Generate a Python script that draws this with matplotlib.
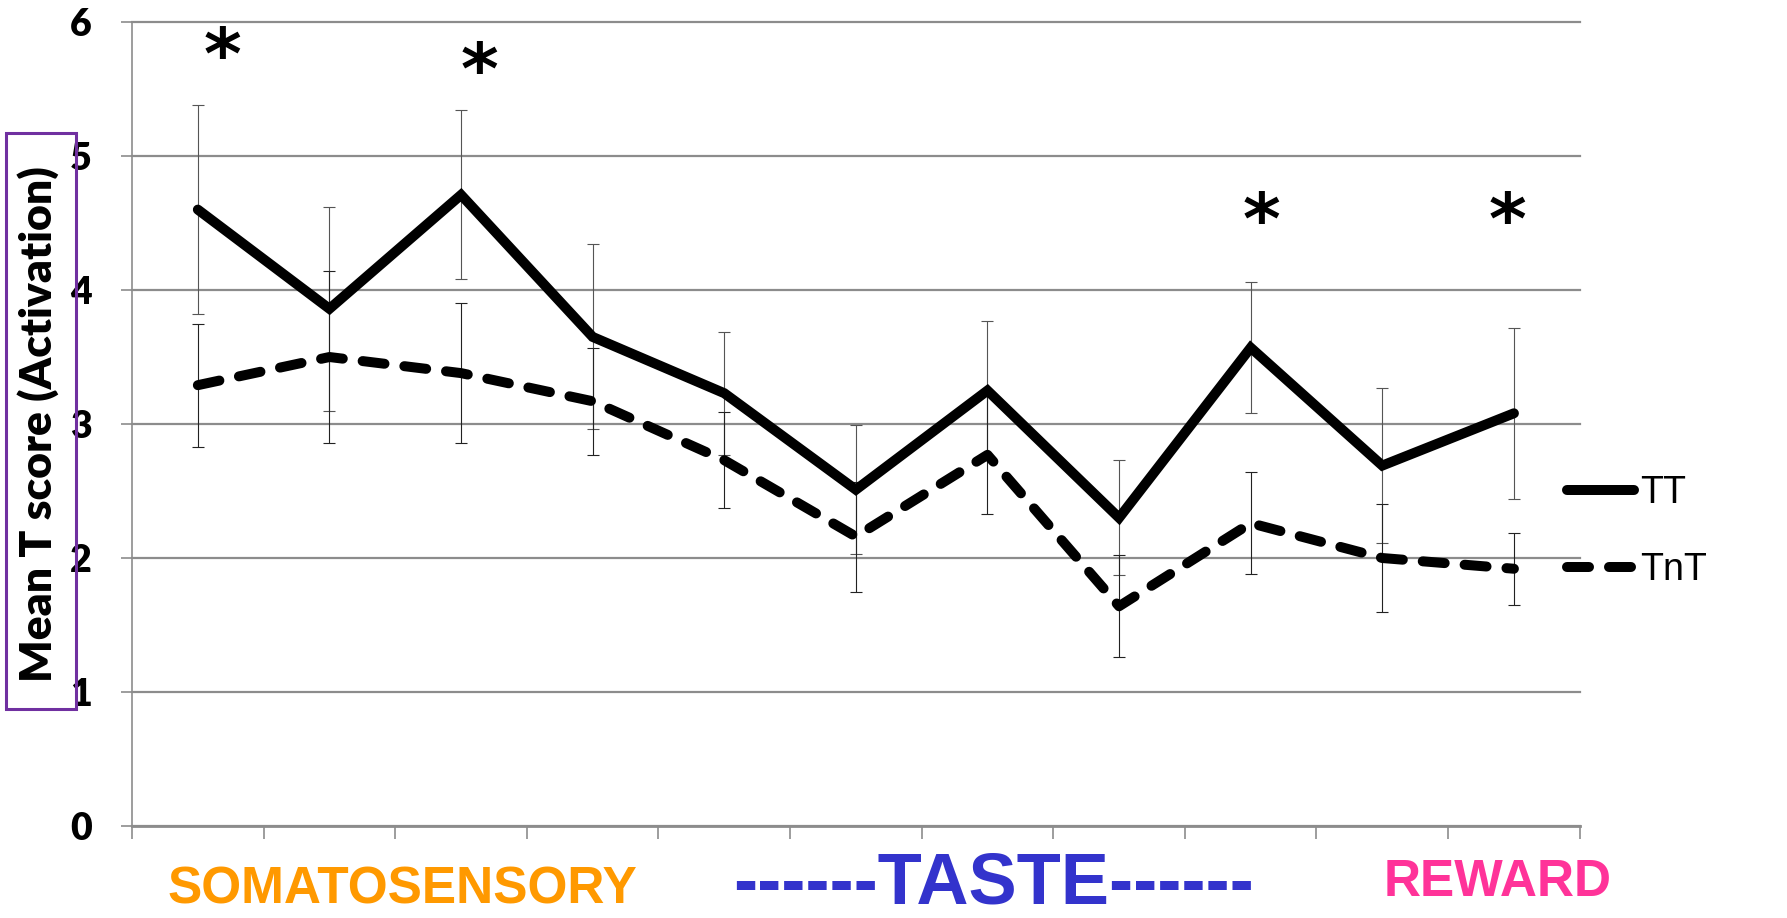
import matplotlib
matplotlib.use("Agg")
import matplotlib.pyplot as plt
from matplotlib.patches import Rectangle
import numpy as np

# mean T score per region, two conditions
regions = np.arange(1, 12)
tt_mean = [4.60, 3.86, 4.71, 3.65, 3.23, 2.51, 3.25, 2.30, 3.57, 2.69, 3.08]
tt_err = [0.78, 0.76, 0.63, 0.69, 0.46, 0.48, 0.52, 0.43, 0.49, 0.58, 0.64]
tnt_mean = [3.29, 3.50, 3.38, 3.17, 2.73, 2.16, 2.77, 1.64, 2.26, 2.00, 1.92]
tnt_err = [0.46, 0.64, 0.52, 0.40, 0.36, 0.41, 0.44, 0.38, 0.38, 0.40, 0.27]

# significance markers (x in category units, y in T score)
star_x = [1.19, 3.14, 9.08, 10.95]
star_y = [5.72, 5.61, 4.49, 4.49]

grid_col = "#8c8c8c"

fig = plt.figure(figsize=(17.87, 9.18), dpi=100)
ax = fig.add_axes([0.0739, 0.1002, 0.8101, 0.8758])

ax.errorbar(regions, tt_mean, yerr=tt_err, fmt="none", ecolor="#555555",
            elinewidth=0.8, capsize=4, capthick=0.8, zorder=2)
ax.errorbar(regions, tnt_mean, yerr=tnt_err, fmt="none", ecolor="#222222",
            elinewidth=0.8, capsize=4, capthick=0.8, zorder=2)

ax.plot(regions, tt_mean, color="black", lw=7.2, solid_capstyle="round",
        solid_joinstyle="miter", label="TT", zorder=3)
ax.plot(regions, tnt_mean, color="black", lw=7.2, linestyle=(0, (2.2, 2.0)),
        dash_capstyle="round", label="TnT", zorder=3)

for sx, sy in zip(star_x, star_y):
    ax.text(sx, sy, "*", ha="center", va="center", fontsize=52,
            fontweight="bold", family="DejaVu Sans")

ax.set_xlim(0.5, 11.5)
ax.set_ylim(0, 6)
ax.set_xticks(np.arange(0.5, 12, 1))
ax.set_xticklabels([])
ax.set_yticks(range(7))
ax.set_yticklabels([str(v) for v in range(7)], fontsize=27,
                   fontweight="heavy", family="Lato")
ax.tick_params(axis="x", direction="out", length=9, width=1.2, colors=grid_col)
ax.tick_params(axis="y", direction="out", length=8, width=1.2,
               colors=grid_col, labelcolor="black", pad=21)

ax.yaxis.grid(True, color=grid_col, lw=1.6)
for gl in ax.get_ygridlines():
    gl.set_clip_on(False)
ax.set_axisbelow(True)
for side in ("top", "right"):
    ax.spines[side].set_visible(False)
ax.spines["left"].set_color(grid_col)
ax.spines["left"].set_linewidth(1.2)
ax.spines["bottom"].set_color(grid_col)
ax.spines["bottom"].set_linewidth(2)

ax.legend(loc="center left", bbox_to_anchor=(0.991, 0.366), frameon=False,
          prop={"family": "Liberation Sans", "size": 27}, handlelength=1.8,
          handletextpad=0.15, labelspacing=1.1, borderpad=0,
          borderaxespad=0)

# y label in a purple frame
fig.text(0.0213, 0.538, "Mean T score (Activation)", rotation=90,
         ha="center", va="center", fontsize=32, fontweight="heavy",
         family="Lato")
fig.add_artist(Rectangle((0.0034, 0.2277), 0.039, 0.627,
                         transform=fig.transFigure, fill=False,
                         edgecolor="#7030A0", lw=2.2, zorder=10))

# region groups under the axis
fig.text(0.225, 0.004, "SOMATOSENSORY", ha="center", va="bottom",
         fontsize=37, fontweight="bold", color="#FF9900",
         family="Liberation Sans")
fig.text(0.556, 0.0, "------TASTE------", ha="center", va="bottom",
         fontsize=52, fontweight="bold", color="#3333CC",
         family="Liberation Sans")
fig.text(0.838, 0.012, "REWARD", ha="center", va="bottom",
         fontsize=37, fontweight="bold", color="#FF3399",
         family="Liberation Sans")

fig.savefig("out.png", dpi=100)
